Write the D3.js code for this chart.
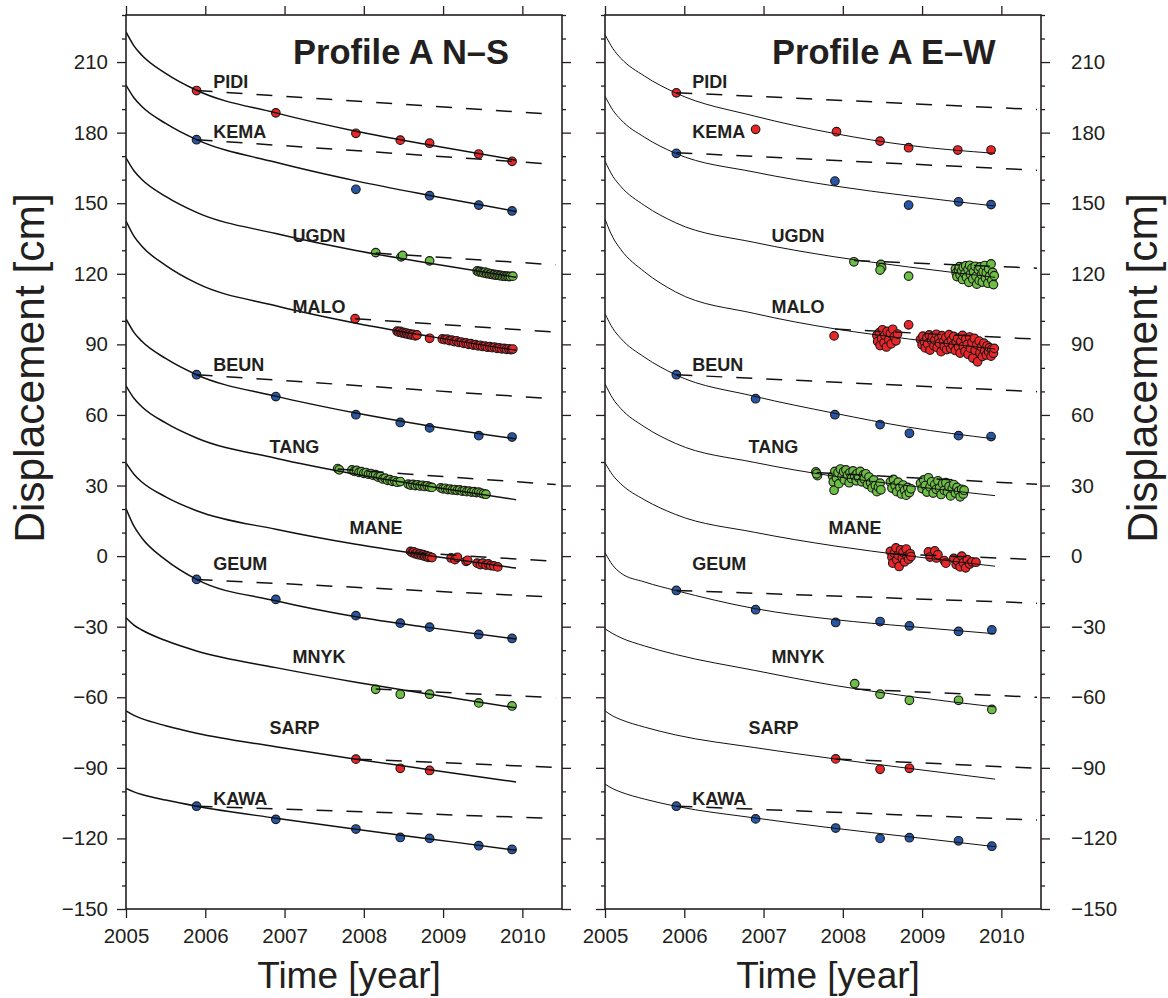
<!DOCTYPE html>
<html>
<head>
<meta charset="utf-8">
<script src="https://cdn.jsdelivr.net/npm/d3@7"></script>
<style>
    body { margin: 0; background: #fff; }
    text { font-family: "Liberation Sans", Arial, Helvetica, sans-serif; fill: #231f20; }
</style>
</head>
<body>
<svg id="chart"></svg>
<script>
// ---- data ----
var stations = ["PIDI", "KEMA", "UGDN", "MALO", "BEUN", "TANG", "MANE", "GEUM", "MNYK", "SARP", "KAWA"];
var stationColor = ["red", "blue", "green", "red", "blue", "green", "red", "blue", "green", "red", "blue"];
var yearTicks = [2005, 2006, 2007, 2008, 2009, 2010];
var majorTicks = [-150, -120, -90, -60, -30, 0, 30, 60, 90, 120, 150, 180, 210];
var panelTitles = ["Profile A N\u2013S", "Profile A E\u2013W"];

// station label anchor (year, value of baseline)
var labelYear = [2006.1, 2006.1, 2007.1, 2007.1, 2006.1, 2006.81, 2007.82, 2006.1, 2007.1, 2006.81, 2006.1];
var labelValue = [198.9, 177.7, 133.5, 103.4, 78.8, 44.0, 9.2, -6.1, -45.6, -75.7, -105.9];

// model curves, sampled at curveYears
var curveYears = [2005.0, 2005.1, 2005.2, 2005.5, 2005.89, 2006.89, 2007.9, 2008.83, 2009.92];
var nsCurves = [
    [222.8, 216.9, 212.9, 205.2, 198.0, 188.4, 180.6, 174.7, 168.3],
    [200.2, 194.8, 191.1, 183.9, 177.0, 167.4, 159.5, 153.3, 146.5],
    [169.3, 163.8, 160.1, 152.9, 146.1, 137.1, 129.9, 124.5, 118.5],
    [142.4, 136.0, 131.7, 123.6, 116.0, 106.4, 99.0, 93.4, 87.5],
    [100.8, 95.1, 91.3, 84.0, 77.1, 68.0, 60.8, 55.3, 49.8],
    [72.4, 67.1, 63.5, 56.6, 50.2, 41.6, 34.8, 29.6, 24.0],
    [39.6, 34.8, 31.5, 25.2, 19.3, 11.4, 5.0, 0.2, -5.1],
    [20.2, 12.7, 7.7, -1.6, -9.9, -19.0, -25.8, -30.4, -35.2],
    [-26.2, -29.3, -31.4, -35.9, -40.3, -47.4, -53.6, -58.7, -64.5],
    [-65.8, -67.7, -69.1, -72.1, -75.3, -81.0, -86.3, -90.8, -96.0],
    [-98.8, -100.2, -101.3, -103.7, -106.3, -111.4, -116.1, -120.2, -125.0]
];
var ewCurves = [
    [221.7, 215.7, 211.6, 204.0, 196.9, 187.0, 179.6, 174.6, 171.2],
    [195.5, 189.5, 185.5, 178.0, 171.2, 163.2, 157.3, 153.1, 148.8],
    [167.9, 161.4, 157.1, 149.0, 141.7, 133.3, 127.2, 122.9, 118.5],
    [143.2, 135.4, 130.3, 120.8, 112.3, 103.1, 96.6, 92.3, 88.0],
    [103.0, 96.7, 92.5, 84.5, 77.1, 67.9, 60.7, 54.8, 49.8],
    [73.2, 66.9, 62.7, 54.9, 47.9, 39.8, 33.9, 29.9, 25.7],
    [39.7, 34.3, 30.7, 23.9, 17.7, 10.1, 4.3, 0.1, -4.3],
    [1.5, -4.0, -7.2, -11.0, -14.6, -22.3, -27.0, -29.9, -33.0],
    [-30.9, -33.0, -34.7, -38.2, -41.8, -48.6, -55.0, -59.6, -64.1],
    [-65.8, -68.0, -69.5, -72.7, -76.0, -81.4, -86.2, -90.2, -94.8],
    [-96.9, -98.9, -100.3, -103.3, -106.3, -111.3, -115.7, -119.3, -123.5]
];

// linear trends [startYear, startValue, endYear, endValue]
var nsTrends = [
    [2005.89, 197.9, 2010.42, 187.7],
    [2005.89, 177.0, 2010.42, 166.5],
    [2008.15, 128.8, 2010.42, 123.8],
    [2007.89, 100.9, 2010.42, 95.2],
    [2005.89, 77.1, 2010.42, 66.8],
    [2007.67, 37.0, 2010.42, 30.4],
    [2008.59, 1.5, 2010.42, -2.2],
    [2005.89, -9.9, 2010.42, -17.5],
    [2008.15, -56.5, 2010.42, -60.2],
    [2007.90, -86.3, 2010.42, -89.8],
    [2005.89, -106.3, 2010.42, -111.5]
];
var ewTrends = [
    [2005.90, 197.0, 2010.45, 189.8],
    [2005.90, 171.5, 2010.45, 164.0],
    [2008.14, 125.6, 2010.45, 122.4],
    [2007.90, 96.5, 2010.45, 92.2],
    [2005.90, 77.1, 2010.45, 69.9],
    [2007.67, 35.5, 2010.45, 30.5],
    [2008.60, 1.0, 2010.45, -1.5],
    [2005.90, -14.6, 2010.45, -20.0],
    [2008.15, -56.5, 2010.45, -60.0],
    [2007.91, -86.2, 2010.45, -90.2],
    [2005.90, -106.3, 2010.45, -112.2]
];

// observations [year, displacement] -- N-S
var nsPIDI = [[2005.89,197.9],[2006.89,188.4],[2007.90,179.7],[2008.46,176.8],[2008.83,175.5],[2009.45,170.9],[2009.87,167.8]];
var nsKEMA = [[2005.89,177.0],[2007.90,155.9],[2008.83,153.2],[2009.45,149.2],[2009.87,146.7]];
var nsUGDN = [[2008.15,129.0],[2008.47,127.2],[2008.49,127.8],[2008.83,125.5],
    [2009.43,121.2],[2009.45,120.8],[2009.47,121.0],[2009.49,120.6],[2009.51,120.4],[2009.53,120.7],[2009.55,120.1],[2009.57,120.3],
    [2009.59,119.9],[2009.61,120.0],[2009.63,119.6],[2009.65,119.7],[2009.67,119.4],[2009.69,119.5],[2009.71,119.2],[2009.73,119.3],
    [2009.75,119.0],[2009.77,119.1],[2009.79,118.9],[2009.81,119.0],[2009.83,118.8],[2009.85,118.9],[2009.88,119.0]];
var nsMALO = [[2007.89,100.9],
    [2008.42,95.6],[2008.44,95.2],[2008.46,95.5],[2008.48,94.9],[2008.50,95.1],[2008.52,94.6],[2008.54,94.8],[2008.56,94.3],
    [2008.58,94.5],[2008.60,94.0],[2008.62,94.2],[2008.65,93.6],[2008.67,94.0],[2008.83,92.6],
    [2008.99,92.3],[2009.02,92.0],[2009.05,92.2],[2009.08,91.6],[2009.11,91.8],[2009.14,91.2],[2009.17,91.5],[2009.20,90.8],
    [2009.23,91.0],[2009.26,90.4],[2009.29,90.6],[2009.32,90.0],[2009.35,90.3],[2009.38,89.7],[2009.41,89.9],[2009.44,89.4],
    [2009.47,89.6],[2009.50,89.1],[2009.53,89.3],[2009.56,88.8],[2009.59,89.0],[2009.62,88.6],[2009.65,88.8],[2009.68,88.3],
    [2009.71,88.5],[2009.74,88.1],[2009.77,88.3],[2009.80,87.9],[2009.83,88.1],[2009.86,87.8],[2009.88,88.0]];
var nsBEUN = [[2005.89,77.1],[2006.89,67.8],[2007.90,60.1],[2008.46,56.8],[2008.83,54.5],[2009.45,51.2],[2009.87,50.6]];
var nsTANG = [[2007.67,37.2],[2007.69,36.7],
    [2007.85,36.6],[2007.88,36.0],[2007.91,36.4],[2007.94,35.6],[2007.97,35.9],[2008.00,35.2],[2008.03,35.5],[2008.06,34.8],
    [2008.09,35.1],[2008.12,34.3],[2008.15,34.6],[2008.18,33.6],[2008.21,33.9],[2008.24,32.8],[2008.27,33.1],[2008.30,32.2],
    [2008.33,32.5],[2008.36,31.8],[2008.39,32.0],[2008.42,31.4],[2008.46,31.7],
    [2008.56,30.6],[2008.59,30.2],[2008.62,30.5],[2008.65,30.0],[2008.68,30.3],[2008.71,29.8],[2008.74,30.1],[2008.77,29.6],
    [2008.80,29.9],[2008.83,29.4],[2008.86,29.2],
    [2008.97,29.0],[2009.00,28.6],[2009.03,28.8],[2009.06,28.3],[2009.09,28.5],[2009.12,28.1],[2009.15,28.3],[2009.18,27.9],
    [2009.21,28.1],[2009.24,27.6],[2009.27,27.8],[2009.30,27.4],[2009.33,27.6],[2009.36,27.2],[2009.39,27.4],[2009.42,27.0],
    [2009.45,27.2],[2009.48,26.8],[2009.51,26.5],[2009.54,26.3]];
var nsMANE = [[2008.59,2.0],[2008.61,1.5],[2008.63,1.8],[2008.65,1.0],[2008.67,1.3],[2008.69,0.6],[2008.71,0.9],[2008.73,0.3],
    [2008.75,0.6],[2008.77,-0.1],[2008.79,0.2],[2008.81,-0.5],[2008.83,-0.2],[2008.86,-0.6],
    [2009.10,-0.8],[2009.15,-1.5],[2009.18,-0.5],[2009.29,-2.2],[2009.31,-1.8],[2009.43,-3.0],[2009.47,-3.6],[2009.50,-3.0],
    [2009.54,-3.8],[2009.57,-3.3],[2009.60,-4.0],[2009.64,-4.2],[2009.69,-4.6]];
var nsGEUM = [[2005.89,-9.9],[2006.89,-18.4],[2007.90,-25.3],[2008.46,-28.5],[2008.83,-30.2],[2009.45,-33.3],[2009.87,-35.0]];
var nsMNYK = [[2008.15,-56.6],[2008.46,-58.7],[2008.83,-58.7],[2009.45,-62.4],[2009.87,-63.7]];
var nsSARP = [[2007.90,-86.3],[2008.46,-90.2],[2008.83,-91.1]];
var nsKAWA = [[2005.89,-106.3],[2006.89,-111.9],[2007.90,-116.0],[2008.46,-119.6],[2008.83,-120.0],[2009.45,-123.1],[2009.87,-124.7]];

// observations [year, displacement] -- E-W
var ewPIDI = [[2005.90,196.9],[2006.90,181.4],[2007.92,180.4],[2008.47,176.4],[2008.83,173.6],[2009.45,172.6],[2009.87,172.6]];
var ewKEMA = [[2005.90,171.2],[2007.90,159.4],[2008.83,149.2],[2009.46,150.6],[2009.87,149.4]];
var ewUGDN = [[2008.14,125.1],[2008.48,124.0],[2008.49,122.6],[2008.47,121.6],[2008.83,119.0],
    [2009.42,122.0],[2009.43,120.3],[2009.44,118.8],[2009.46,121.6],[2009.47,123.0],[2009.48,119.5],[2009.50,121.2],[2009.51,117.6],
    [2009.52,122.8],[2009.54,120.0],[2009.55,123.4],[2009.56,118.4],[2009.58,121.8],[2009.59,116.4],[2009.60,123.6],[2009.61,119.8],
    [2009.63,122.4],[2009.64,117.8],[2009.65,120.9],[2009.67,123.2],[2009.68,118.9],[2009.69,115.6],[2009.71,121.7],[2009.72,117.2],
    [2009.73,122.9],[2009.75,119.6],[2009.76,116.5],[2009.77,121.0],[2009.79,123.5],[2009.80,118.2],[2009.81,120.4],[2009.83,116.0],
    [2009.84,122.1],[2009.85,118.9],[2009.87,124.2],[2009.88,117.3],[2009.89,120.6],[2009.90,115.4],[2009.91,119.2]];
var ewMALO = [[2007.89,93.6],
    [2008.43,93.8],[2008.44,91.2],[2008.46,95.0],[2008.47,89.5],[2008.49,92.5],[2008.50,96.2],[2008.52,90.7],[2008.53,93.9],
    [2008.55,88.9],[2008.56,95.5],[2008.58,92.0],[2008.60,94.7],[2008.61,90.2],[2008.63,96.4],[2008.65,93.2],[2008.67,91.5],
    [2008.69,94.4],[2008.83,98.3],
    [2008.98,92.1],[2009.00,89.8],[2009.01,93.5],[2009.03,91.0],[2009.04,88.5],[2009.06,92.8],[2009.07,90.2],[2009.09,94.0],
    [2009.10,87.6],[2009.12,91.6],[2009.13,93.2],[2009.15,89.4],[2009.16,91.9],[2009.18,94.3],[2009.19,88.7],[2009.21,92.4],
    [2009.22,90.5],[2009.24,86.9],[2009.25,93.7],[2009.27,91.1],[2009.28,89.0],[2009.30,92.9],[2009.31,87.8],[2009.33,90.6],
    [2009.34,94.1],[2009.36,88.2],[2009.37,91.8],[2009.39,89.6],[2009.40,93.4],[2009.42,87.4],[2009.43,90.9],[2009.45,92.6],
    [2009.46,88.9],[2009.48,86.3],[2009.49,91.3],[2009.51,93.8],[2009.52,89.2],[2009.54,87.0],[2009.55,92.2],[2009.57,90.0],
    [2009.58,85.8],[2009.60,93.1],[2009.61,88.4],[2009.63,90.8],[2009.64,84.2],[2009.66,92.5],[2009.67,87.5],[2009.69,89.9],
    [2009.70,82.6],[2009.72,91.4],[2009.73,86.4],[2009.75,88.9],[2009.76,84.9],[2009.78,90.5],[2009.79,87.2],[2009.81,85.5],
    [2009.82,89.4],[2009.84,86.8],[2009.85,88.6],[2009.87,85.0],[2009.88,87.9],[2009.90,86.2],[2009.91,88.3]];
var ewBEUN = [[2005.90,77.1],[2006.90,66.9],[2007.90,60.1],[2008.47,55.9],[2008.84,52.2],[2009.46,51.2],[2009.87,50.8]];
var ewTANG = [[2007.66,35.8],[2007.68,34.2],[2007.67,35.0],
    [2007.87,34.0],[2007.88,31.5],[2007.89,28.0],[2007.90,36.0],[2007.92,33.2],[2007.94,35.5],[2007.95,30.8],[2007.97,37.0],
    [2007.99,33.8],[2008.01,35.9],[2008.02,32.4],[2008.04,36.6],[2008.06,34.4],[2008.08,31.2],[2008.09,35.4],[2008.11,33.0],
    [2008.13,36.2],[2008.15,34.0],[2008.17,32.0],[2008.18,35.1],[2008.20,33.4],[2008.22,36.0],[2008.24,31.6],[2008.26,34.5],
    [2008.27,32.8],[2008.29,35.0],[2008.31,30.5],[2008.33,33.6],[2008.35,31.2],[2008.37,29.0],[2008.39,32.4],[2008.41,30.0],
    [2008.43,27.4],[2008.45,29.4],[2008.47,31.0],[2008.48,28.2],
    [2008.60,31.5],[2008.62,28.9],[2008.64,32.6],[2008.66,30.0],[2008.68,27.4],[2008.70,31.4],[2008.72,29.1],[2008.74,26.4],
    [2008.76,30.2],[2008.78,28.0],[2008.80,25.9],[2008.82,29.2],[2008.84,27.0],[2008.86,28.6],
    [2008.98,31.0],[2009.00,28.7],[2009.02,32.4],[2009.04,30.0],[2009.06,27.2],[2009.08,33.3],[2009.10,29.4],[2009.12,31.6],
    [2009.14,26.8],[2009.16,30.4],[2009.18,28.4],[2009.20,32.0],[2009.22,29.0],[2009.24,26.2],[2009.26,30.8],[2009.28,28.0],
    [2009.30,31.2],[2009.32,27.4],[2009.34,29.6],[2009.36,25.6],[2009.38,28.8],[2009.40,30.4],[2009.42,26.8],[2009.44,29.2],
    [2009.46,27.6],[2009.48,25.2],[2009.50,28.4],[2009.52,26.4],[2009.53,28.0]];
var ewMANE = [[2008.60,2.0],[2008.62,-0.5],[2008.63,-3.0],[2008.65,1.2],[2008.67,3.5],[2008.68,-1.6],[2008.70,0.4],[2008.71,-4.4],
    [2008.73,2.6],[2008.75,-0.9],[2008.76,1.6],[2008.78,-2.4],[2008.80,3.0],[2008.81,0.0],[2008.83,-1.3],[2008.85,1.0],[2008.86,-0.2],
    [2009.08,1.8],[2009.10,-0.4],[2009.16,2.2],[2009.18,-0.8],[2009.20,0.6],[2009.28,-1.9],[2009.30,-3.0],[2009.40,-1.0],
    [2009.43,-3.6],[2009.45,-2.2],[2009.48,-4.6],[2009.50,0.0],[2009.52,-2.8],[2009.55,-5.0],[2009.57,-1.5],[2009.60,-3.4],
    [2009.63,-2.4],[2009.68,-2.6]];
var ewGEUM = [[2005.90,-14.6],[2006.90,-22.8],[2007.91,-28.2],[2008.47,-27.8],[2008.84,-29.7],[2009.46,-32.0],[2009.88,-31.4]];
var ewMNYK = [[2008.15,-54.2],[2008.47,-58.7],[2008.84,-61.3],[2009.46,-61.3],[2009.88,-65.2]];
var ewSARP = [[2007.91,-86.2],[2008.47,-90.6],[2008.84,-90.2]];
var ewKAWA = [[2005.90,-106.3],[2006.90,-111.7],[2007.91,-115.6],[2008.47,-120.0],[2008.84,-119.7],[2009.46,-121.0],[2009.88,-123.3]];

var nsObs = [nsPIDI, nsKEMA, nsUGDN, nsMALO, nsBEUN, nsTANG, nsMANE, nsGEUM, nsMNYK, nsSARP, nsKAWA];
var ewObs = [ewPIDI, ewKEMA, ewUGDN, ewMALO, ewBEUN, ewTANG, ewMANE, ewGEUM, ewMNYK, ewSARP, ewKAWA];

// ---- drawing ----
var fills = { red: "#ec2528", blue: "#2657a6", green: "#6cbf45" };
var width = 1168, height = 998;
var plotTop = 15, plotBottom = 909, panelWidth = 436;

var svg = d3.select("#chart")
    .attr("width", width)
    .attr("height", height);
svg.append("rect").attr("width", width).attr("height", height).attr("fill", "#fff");

var yScale = d3.scaleLinear().domain([-150, 230]).range([plotBottom, plotTop]);

renderPanel(0, 126, nsCurves, nsTrends, nsObs, 1.5);
renderPanel(1, 605, ewCurves, ewTrends, ewObs, 1.0);

function renderPanel(index, left, curves, trends, obs, curveWidth){
    var xScale = d3.scaleLinear().domain([2005, 2010.5]).range([left, left + panelWidth]);
    var g = svg.append("g");

    var clip = "clip" + index;
    svg.append("clipPath").attr("id", clip)
        .append("rect").attr("x", left).attr("y", plotTop).attr("width", panelWidth).attr("height", plotBottom - plotTop);

    var plot = g.append("g").attr("clip-path", `url(#${clip})`);

    // observations first, lines on top
    obs.forEach(function(points, i){
        plot.append("g").selectAll("circle")
            .data(points)
            .enter()
            .append("circle")
            .attr("cx", function(d){ return xScale(d[0]); })
            .attr("cy", function(d){ return yScale(d[1]); })
            .attr("r", 4.3)
            .attr("fill", fills[stationColor[i]])
            .attr("stroke", "#1f1a1a")
            .attr("stroke-width", 1.15);
    });

    var curveLine = d3.line()
        .x(function(d, i){ return xScale(curveYears[i]); })
        .y(function(d){ return yScale(d); })
        .curve(d3.curveMonotoneX);
    plot.selectAll("path.curve")
        .data(curves)
        .enter()
        .append("path")
        .attr("class", "curve")
        .attr("d", curveLine)
        .attr("fill", "none")
        .attr("stroke", "#111")
        .attr("stroke-width", curveWidth);

    plot.selectAll("line.trend")
        .data(trends)
        .enter()
        .append("line")
        .attr("class", "trend")
        .attr("x1", function(d){ return xScale(d[0]); })
        .attr("y1", function(d){ return yScale(d[1]); })
        .attr("x2", function(d){ return xScale(d[2]); })
        .attr("y2", function(d){ return yScale(d[3]); })
        .attr("stroke", "#111")
        .attr("stroke-width", 1.5)
        .attr("stroke-dasharray", "16,14");

    g.selectAll("text.station")
        .data(stations)
        .enter()
        .append("text")
        .attr("class", "station")
        .attr("x", function(d, i){ return xScale(labelYear[i]); })
        .attr("y", function(d, i){ return yScale(labelValue[i]); })
        .attr("font-size", 18)
        .attr("font-weight", "bold")
        .text(function(d){ return d; });

    g.append("text")
        .attr("x", left + 167)
        .attr("y", 64)
        .attr("font-size", 34.5)
        .attr("font-weight", "bold")
        .text(panelTitles[index]);

    attachAxes(g, xScale, left, index);
}

function attachAxes(g, xScale, left, index){
    var minorTicks = d3.range(-150, 231, 10).filter(function(d){ return d % 30 !== 0; });
    var right = left + panelWidth;

    g.append("g").attr("transform", `translate(0, ${plotBottom})`)
        .call(d3.axisBottom(xScale).tickValues(yearTicks).tickSize(9).tickPadding(10).tickFormat(d3.format("d")));
    g.append("g").attr("transform", `translate(0, ${plotTop})`)
        .call(d3.axisTop(xScale).tickValues(yearTicks).tickSize(9).tickFormat(""));

    var leftMajor = d3.axisLeft(yScale).tickValues(majorTicks).tickSize(9).tickPadding(9);
    var rightMajor = d3.axisRight(yScale).tickValues(majorTicks).tickSize(9).tickPadding(21);
    if(index === 0) rightMajor.tickFormat("");
    else leftMajor.tickFormat("");

    g.append("g").attr("transform", `translate(${left}, 0)`).call(leftMajor);
    g.append("g").attr("transform", `translate(${left}, 0)`)
        .call(d3.axisLeft(yScale).tickValues(minorTicks).tickSize(4).tickFormat(""));
    g.append("g").attr("transform", `translate(${right}, 0)`).call(rightMajor);
    g.append("g").attr("transform", `translate(${right}, 0)`)
        .call(d3.axisRight(yScale).tickValues(minorTicks).tickSize(4).tickFormat(""));

    g.selectAll(".domain").remove();
    g.selectAll(".tick line").attr("stroke", "#231f20").attr("stroke-width", 1.3);
    g.selectAll(".tick text").attr("font-size", 20.5).attr("fill", "#231f20")
        .attr("font-family", "'Liberation Sans', Arial, Helvetica, sans-serif");

    g.append("rect")
        .attr("x", left).attr("y", plotTop)
        .attr("width", panelWidth).attr("height", plotBottom - plotTop)
        .attr("fill", "none").attr("stroke", "#231f20").attr("stroke-width", 1.6);

    g.append("text")
        .attr("x", left + panelWidth / 2 + 5)
        .attr("y", 988)
        .attr("text-anchor", "middle")
        .attr("font-size", 37)
        .text("Time [year]");

    var titleX = index === 0 ? 44 : 1157;
    g.append("text")
        .attr("transform", `translate(${titleX}, 368) rotate(-90)`)
        .attr("text-anchor", "middle")
        .attr("font-size", 42.5)
        .text("Displacement [cm]");
}
</script>
</body>
</html>
